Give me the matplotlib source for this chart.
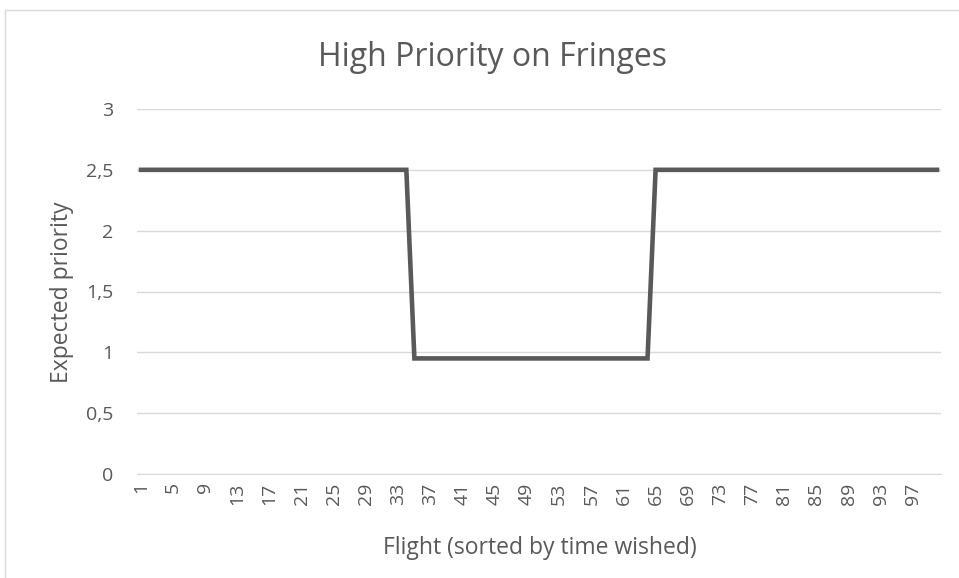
import matplotlib
matplotlib.use("Agg")
import matplotlib.pyplot as plt
from matplotlib.patches import Rectangle

flights = list(range(1, 101))
priority = [2.5] * 34 + [0.95] * 30 + [2.5] * 36
x_ticks = list(range(1, 101, 4))
y_ticks = [0, 0.5, 1, 1.5, 2, 2.5, 3]
y_labels = ["0", "0,5", "1", "1,5", "2", "2,5", "3"]

plt.rcParams['font.family'] = ['Open Sans', 'DejaVu Sans']
fig = plt.figure(figsize=(9.59, 5.78), dpi=100)
ax = fig.add_axes([137/959, 1-474/578, (941-137)/959, (474-109)/578])

ax.plot(flights, priority, color="#595959", linewidth=3.3, solid_joinstyle="miter", zorder=3)
ax.set_xlim(0.5, 100.5)
ax.set_ylim(0, 3)
ax.set_yticks(y_ticks)
ax.set_yticklabels(y_labels)
ax.set_xticks(x_ticks)
ax.set_xticklabels([str(t) for t in x_ticks], rotation=90)
ax.grid(axis="y", color="#d9d9d9", linewidth=1)
ax.set_axisbelow(True)
for s in ["top", "right", "left"]:
    ax.spines[s].set_visible(False)
ax.spines["bottom"].set_color("#d9d9d9")
ax.tick_params(axis="both", length=0, colors="#595959", labelsize=14)
ax.tick_params(axis="x", pad=6)
ax.tick_params(axis="y", pad=17)
fig.text(540/959, 1-548/578, "Flight (sorted by time wished)", ha="center", va="center",
         fontsize=16.5, color="#595959")
fig.text(62/959, 1-292/578, "Expected priority", ha="center", va="center", rotation=90,
         fontsize=16.5, color="#595959")
fig.text(492/959, 1-58/578, "High Priority on Fringes", ha="center", va="center",
         fontsize=23, color="#595959")
fig.patches.append(Rectangle((5/959, -0.1), 1, 1.1-10/578, transform=fig.transFigure,
                             fill=False, edgecolor="#d9d9d9", linewidth=1))
fig.savefig("out.png", dpi=100)
